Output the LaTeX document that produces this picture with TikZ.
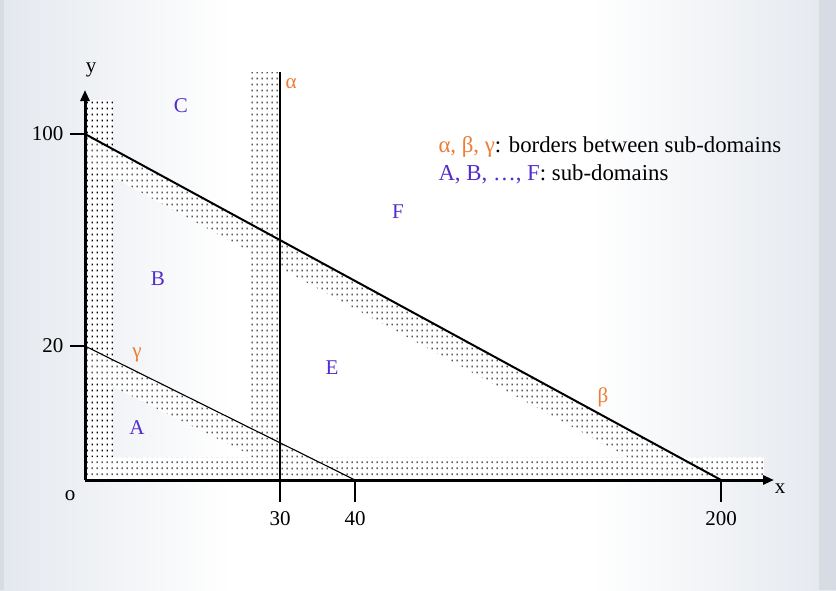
\documentclass[tikz,border=0pt]{standalone}
\usepackage{fontspec}
\setmainfont{Liberation Serif}
\usepackage{tikz}
\usetikzlibrary{arrows.meta,positioning,patterns}
\definecolor{bordorange}{RGB}{237,125,49}
\definecolor{subblue}{RGB}{84,44,204}
\definecolor{bgedge}{RGB}{228,232,238}
\definecolor{bgdark}{RGB}{214,219,228}
\pgfdeclarepatternformonly{smalldots}{\pgfqpoint{0pt}{0pt}}{\pgfqpoint{5pt}{6pt}}{\pgfqpoint{5pt}{6pt}}{%
  \pgfpathrectangle{\pgfqpoint{2pt}{2pt}}{\pgfqpoint{1.2pt}{2pt}}\pgfusepath{fill}}

\begin{document}
\begin{tikzpicture}[x=1pt,y=-1pt,
  every node/.style={font=\fontsize{21}{23}\selectfont},
  band/.style={pattern=smalldots,preaction={fill=white}},
  sub/.style={text=subblue},
  bord/.style={text=bordorange},
  legend/.style={anchor=west,font=\fontsize{22.8}{25}\selectfont},
  axis/.style={line width=3pt,-{Triangle[length=11pt,width=9pt]}},
  tick/.style={line width=1.5pt}]
\useasboundingbox (0,0) rectangle (836,590);
\fill[left color=bgedge,right color=white] (0,0) rectangle (230,590);
\fill[white] (230,0) rectangle (590,590);
\fill[left color=white,right color=bgedge] (590,0) rectangle (836,590);
\fill[bgdark] (0,0) rectangle (4,590);
\fill[bgdark] (819,0) rectangle (836,590);

\coordinate (origin) at (85,480);
\coordinate (ytip) at (85,90);
\coordinate (xtip) at (774,480);
\coordinate (y100) at (85,134);
\coordinate (y20) at (85,346);
\coordinate (x30) at (280,480);
\coordinate (x40) at (355,480);
\coordinate (x200) at (721,480);
\coordinate (alphatop) at (280,72);

\fill[band] (85,100) rectangle (113,480);
\fill[band] (251,72) rectangle (280,480);
\fill[band] (85,457) rectangle (764,480);
\fill[band] (y100) -- (x200) -- (670,480) -- (85,162) -- cycle;
\fill[band] (y20) -- (x40) -- (301,480) -- (85,373) -- cycle;

\draw[line width=2pt] (y100) -- (x200);
\draw[line width=2pt] (alphatop) -- (x30);
\draw[line width=1.1pt] (y20) -- (x40);

\draw[axis] (origin) -- (ytip);
\draw[axis] (origin) -- (xtip);

\coordinate (t100) at (70,134);
\coordinate (t20) at (70,346);
\coordinate (t30) at (280,502);
\coordinate (t40) at (355,502);
\coordinate (t200) at (721,502);
\draw[tick] (t100) -- (y100);
\draw[tick] (t20) -- (y20);
\draw[tick] (x30) -- (t30);
\draw[tick] (x40) -- (t40);
\draw[tick] (x200) -- (t200);

\node (n100) [left=3pt of t100] {100};
\node (n20) [left=3pt of t20] {20};
\node (n30) at (280,519) {30};
\node (n40) at (355,519) {40};
\node (n200) at (721,519) {200};
\node (ylab) at (91,70) {y};
\node (xlab) at (780,489) {x};
\node (olab) at (70,496) {o};

\node[bord] (alpha) at (291,84) {α};
\node[bord] (beta) at (603,397) {β};
\node[bord] (gamma) at (137,355) {γ};

\node[sub] (A) at (137,428) {A};
\node[sub] (B) at (158,279) {B};
\node[sub] (C) at (181,106) {C};
\node[sub] (E) at (332,368) {E};
\node[sub] (F) at (398,212) {F};

\node[legend] (legborder) at (435,147) {\textcolor{bordorange}{α, β, γ}: borders between sub-domains};
\node[legend] (legdomain) at (435,174) {\textcolor{subblue}{A, B, …, F}: sub-domains};
\end{tikzpicture}
\end{document}
